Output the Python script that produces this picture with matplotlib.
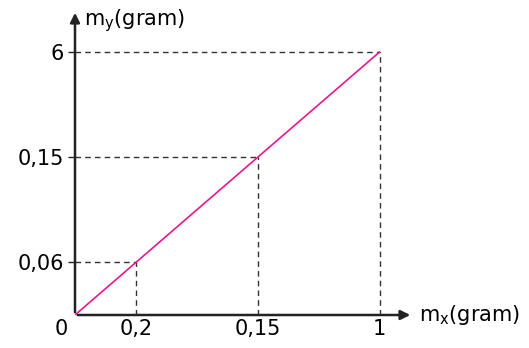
import matplotlib.pyplot as plt

# positions along the axes (the drawing is schematic, not to scale)
pos = [0.2, 0.6, 1.0]
x_labels = ['0,2', '0,15', '1']
y_labels = ['0,06', '0,15', '6']
line_x = [0, 1.0]
line_y = [0, 1.0]

fig = plt.figure(figsize=(5.29, 3.48), dpi=100)
ax = fig.add_axes([75 / 529, 33 / 348, 338 / 529, 305 / 348])
ax.set_xlim(0, 1.11)
ax.set_ylim(0, 1.16)

for s in ax.spines.values():
    s.set_visible(False)

# axes with arrows
ax.annotate('', xy=(1.11, 0), xytext=(0, 0),
            arrowprops=dict(arrowstyle='-|>', color='#222222', lw=1.8, mutation_scale=14),
            annotation_clip=False)
ax.annotate('', xy=(0, 1.16), xytext=(0, 0),
            arrowprops=dict(arrowstyle='-|>', color='#222222', lw=1.8, mutation_scale=14),
            annotation_clip=False)

# dashed guide lines
for px, py in zip(pos, pos):
    ax.plot([px, px], [0, py], ls=(0, (4, 3)), color='#333333', lw=1)
    ax.plot([0, px], [py, py], ls=(0, (4, 3)), color='#333333', lw=1)

ax.plot(line_x, line_y, color='#e8188c', lw=1.2)

ax.set_xticks(pos)
ax.set_xticklabels(x_labels)
ax.set_yticks(pos)
ax.set_yticklabels(y_labels)
ax.tick_params(axis='x', length=0, pad=3, labelsize=15)
ax.tick_params(axis='y', length=5, width=1, color='#222222', pad=3, labelsize=15)

ax.text(-0.025, -0.015, '0', ha='right', va='top', fontsize=15)
ax.text(0.03, 1.12, r'$\mathregular{m_y}$(gram)', ha='left', va='center', fontsize=15)
ax.text(1.13, 0.0, r'$\mathregular{m_x}$(gram)', ha='left', va='center', fontsize=15)

fig.savefig('out.png', dpi=100)
